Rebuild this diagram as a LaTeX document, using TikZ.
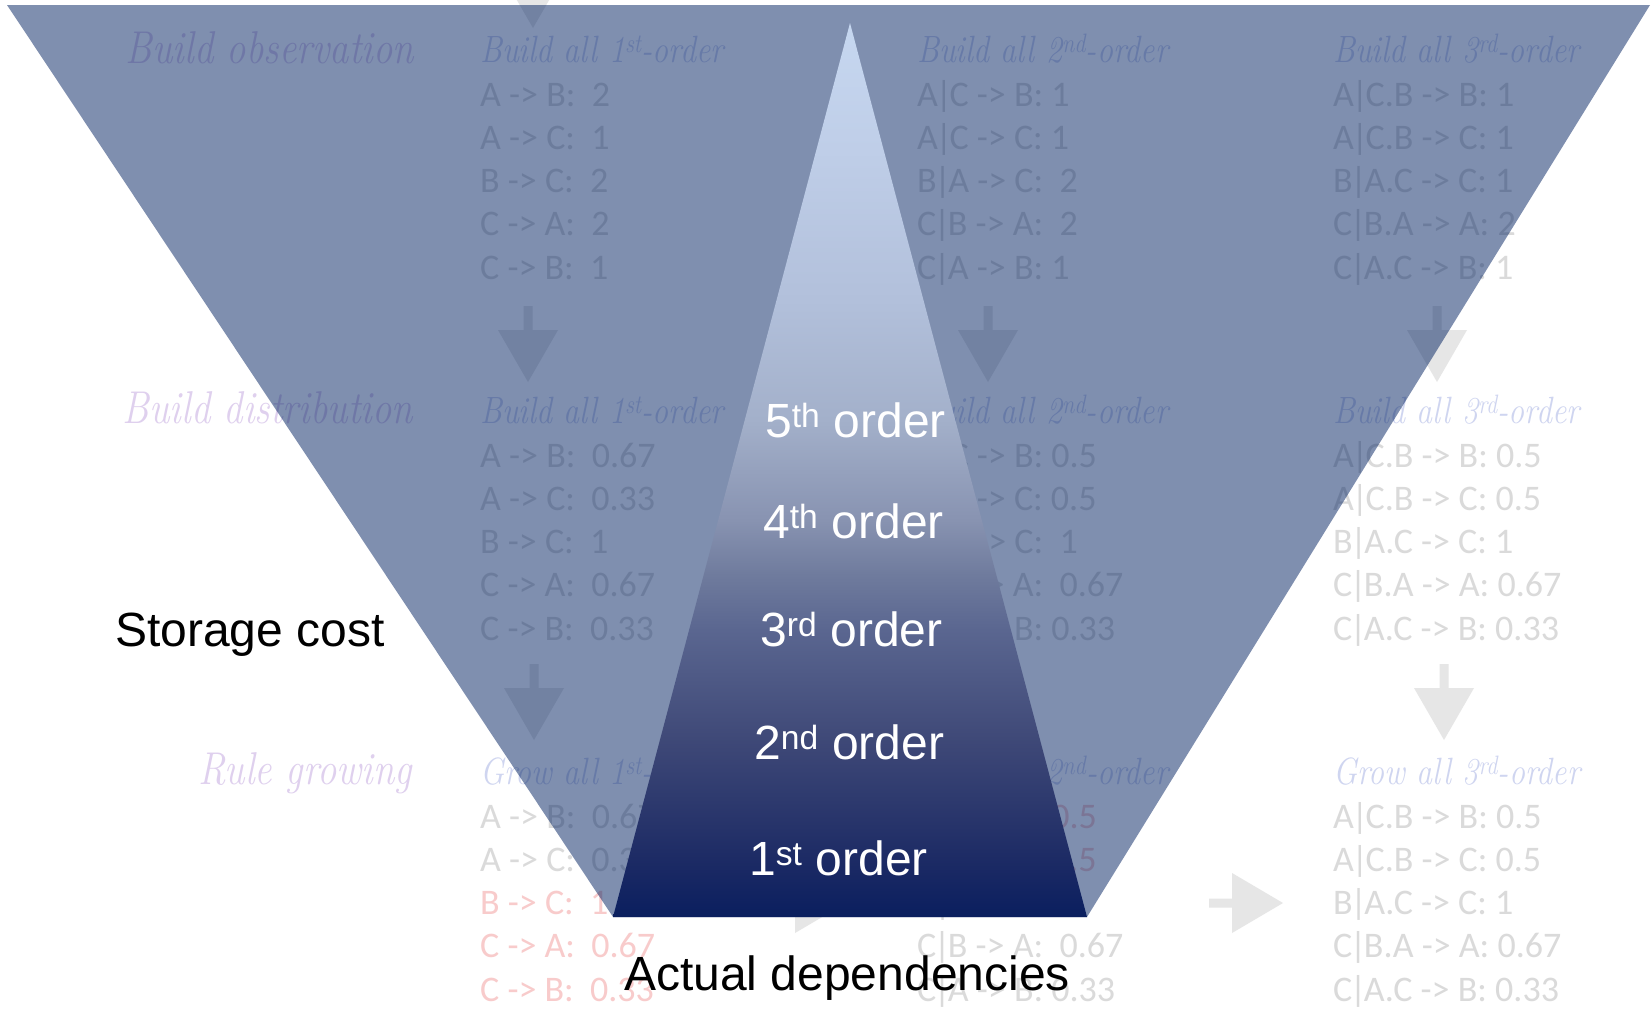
\documentclass[tikz,border=0pt]{standalone}
\usepackage{graphicx}
\usepackage{fontspec}
\newfontfamily\rulefont{Carlito}
\newfontfamily\plainsans{Liberation Sans}

% palette
\definecolor{navy}{HTML}{002060}
\definecolor{rowlab}{HTML}{DFD0EE}
\definecolor{headcol}{HTML}{CFD5F0}
\definecolor{ruletext}{HTML}{DADADA}
\definecolor{redrule}{HTML}{F8CBCB}
\definecolor{arrowgrey}{HTML}{E6E6E6}
% stops of the order pyramid, bottom to top
\definecolor{gA}{HTML}{0A1F5E}
\definecolor{gB}{HTML}{0E2160}
\definecolor{gC}{HTML}{1D2B65}
\definecolor{gD}{HTML}{3E4877}
\definecolor{gE}{HTML}{5A6690}
\definecolor{gF}{HTML}{6F7B9D}
\definecolor{gG}{HTML}{8893B1}
\definecolor{gH}{HTML}{A3B0CA}
\definecolor{gI}{HTML}{B2C0DB}
\definecolor{gJ}{HTML}{BFCEE8}
\definecolor{gK}{HTML}{C6D7F0}
\pgfdeclareverticalshading{ordergrad}{100bp}{%
  color(0bp)=(gA); color(25bp)=(gA); color(25.67bp)=(gB); color(28.3bp)=(gC);
  color(34.79bp)=(gD); color(41.05bp)=(gE); color(44.13bp)=(gF); color(47.2bp)=(gG);
  color(52.8bp)=(gH); color(59.51bp)=(gI); color(67.9bp)=(gJ); color(75bp)=(gK);
  color(100bp)=(gK)}

% tall, narrow calligraphic headings
\newcommand\squeeze[1]{\scalebox{0.84}[1]{#1}}
% tight conditioning bar
\newcommand\given{\kern-2.5pt|\kern-2.5pt}

% one column of five rules, one node per line
\newcommand\rulesblock[4]{%
  \foreach \txt/\sty [count=\k] in {#4} {
    \node[\sty] (#1l\k) at (#2, #3 + 43.3*\k - 43.3) {\txt};
  }%
}

\begin{document}
\begin{tikzpicture}[x=1pt, y=-1pt,
  rowlabel/.style={anchor=base east, inner sep=0, text=rowlab,
    font=\fontsize{46}{46}\selectfont\itshape},
  colhead/.style={anchor=base west, inner sep=0, text=headcol,
    font=\fontsize{38}{38}\selectfont\itshape},
  ruleline/.style={anchor=base west, inner sep=0, text=ruletext,
    font=\rulefont\fontsize{36}{36}\selectfont},
  keptrule/.style={ruleline, text=redrule},
  orderlabel/.style={anchor=base west, inner sep=0, text=white,
    font=\plainsans\fontsize{48}{48}\selectfont},
  sidelabel/.style={anchor=base west, inner sep=0, text=black,
    font=\plainsans\fontsize{48}{48}\selectfont},
  pics/downarrow/.style={code={
    \fill[arrowgrey] (0,0) -- (-30,-52) -- (-4.5,-52) -- (-4.5,-76)
      -- (4.5,-76) -- (4.5,-52) -- (30,-52) -- cycle;}},
  pics/rightarrow/.style={code={
    \fill[arrowgrey] (0,0) -- (-51,-30) -- (-51,-4.5) -- (-74,-4.5)
      -- (-74,4.5) -- (-51,4.5) -- (-51,30) -- cycle;}},
]
\fill[white] (0,0) rectangle (1652,1009);
\useasboundingbox (0,0) rectangle (1652,1009);

% ---- faded pipeline table ----
% flow arrows
\pic at (533,28) {downarrow};
\pic at (528,382) {downarrow};
\pic at (988,382) {downarrow};
\pic at (1437,382) {downarrow};
\pic at (534,740) {downarrow};
\pic at (1444,740) {downarrow};
\pic at (846,903) {rightarrow};
\pic at (1283,903) {rightarrow};

% stage names
\node[rowlabel] (obs)  at (414,63)  {\squeeze{Build observation}};
\node[rowlabel] (dist) at (413,423) {\squeeze{Build distribution}};
\node[rowlabel] (grow) at (412,784) {\squeeze{Rule growing}};

% column headings
\node[colhead] (h1a) at (480,62)   {\squeeze{Build all 1\textsuperscript{st}-order}};
\node[colhead] (h1b) at (917,62)   {\squeeze{Build all 2\textsuperscript{nd}-order}};
\node[colhead] (h1c) at (1333,62)  {\squeeze{Build all 3\textsuperscript{rd}-order}};
\node[colhead] (h2a) at (480,423)  {\squeeze{Build all 1\textsuperscript{st}-order}};
\node[colhead] (h2b) at (917,423)  {\squeeze{Build all 2\textsuperscript{nd}-order}};
\node[colhead] (h2c) at (1333,423) {\squeeze{Build all 3\textsuperscript{rd}-order}};
\node[colhead] (h3a) at (480,784)  {\squeeze{Grow all 1\textsuperscript{st}-order}};
\node[colhead] (h3b) at (917,784)  {\squeeze{Grow all 2\textsuperscript{nd}-order}};
\node[colhead] (h3c) at (1333,784) {\squeeze{Grow all 3\textsuperscript{rd}-order}};

% observation counts
\rulesblock{oa}{480}{106}{A -> B:~ 2/ruleline, A -> C:~ 1/ruleline, B -> C:~ 2/ruleline,
  C -> A:~ 2/ruleline, C -> B:~ 1/ruleline}
\rulesblock{ob}{917}{106}{A\given C -> B: 1/ruleline, A\given C -> C: 1/ruleline,
  B\given A -> C:~ 2/ruleline, C\given B -> A:~ 2/ruleline, C\given A -> B: 1/ruleline}
\rulesblock{oc}{1333}{106}{A\given C.B -> B: 1/ruleline, A\given C.B -> C: 1/ruleline,
  B\given A.C -> C: 1/ruleline, C\given B.A -> A: 2/ruleline, C\given A.C -> B: 1/ruleline}
% distributions
\rulesblock{da}{480}{467}{A -> B:~ 0.67/ruleline, A -> C:~ 0.33/ruleline, B -> C:~ 1/ruleline,
  C -> A:~ 0.67/ruleline, C -> B:~ 0.33/ruleline}
\rulesblock{db}{917}{467}{A\given C -> B: 0.5/ruleline, A\given C -> C: 0.5/ruleline,
  B\given A -> C:~ 1/ruleline, C\given B -> A:~ 0.67/ruleline, C\given A -> B: 0.33/ruleline}
\rulesblock{dc}{1333}{467}{A\given C.B -> B: 0.5/ruleline, A\given C.B -> C: 0.5/ruleline,
  B\given A.C -> C: 1/ruleline, C\given B.A -> A: 0.67/ruleline, C\given A.C -> B: 0.33/ruleline}
% grown rules
\rulesblock{ga}{480}{828}{A -> B:~ 0.67/ruleline, A -> C:~ 0.33/ruleline, B -> C:~ 1/keptrule,
  C -> A:~ 0.67/keptrule, C -> B:~ 0.33/keptrule}
\rulesblock{gb}{917}{828}{A\given C -> B: 0.5/keptrule, A\given C -> C: 0.5/keptrule,
  B\given A -> C:~ 1/ruleline, C\given B -> A:~ 0.67/ruleline, C\given A -> B: 0.33/ruleline}
\rulesblock{gc}{1333}{828}{A\given C.B -> B: 0.5/ruleline, A\given C.B -> C: 0.5/ruleline,
  B\given A.C -> C: 1/ruleline, C\given B.A -> A: 0.67/ruleline, C\given A.C -> B: 0.33/ruleline}

% ---- storage funnel ----
\coordinate (fTL) at (7,5);
\coordinate (fTR) at (1650,5);
\coordinate (fBR) at (1087,917);
\coordinate (fBL) at (613,917);
\fill[navy, opacity=0.5] (fTL) -- (fTR) -- (fBR) -- (fBL) -- cycle;

% ---- dependency orders ----
\coordinate (tApex) at (850,23);
\shade[shading=ordergrad] (tApex) -- (fBR) -- (fBL) -- cycle;

\node[orderlabel] (o5) at (765,437) {5\textsuperscript{th} order};
\node[orderlabel] (o4) at (763,538) {4\textsuperscript{th} order};
\node[orderlabel] (o3) at (760,646) {3\textsuperscript{rd} order};
\node[orderlabel] (o2) at (754,759) {2\textsuperscript{nd} order};
\node[orderlabel] (o1) at (749,875) {1\textsuperscript{st} order};

\node[sidelabel] (cost) at (115,646) {Storage cost};
\node[sidelabel] (deps) at (624,990) {Actual dependencies};
\end{tikzpicture}
\end{document}
